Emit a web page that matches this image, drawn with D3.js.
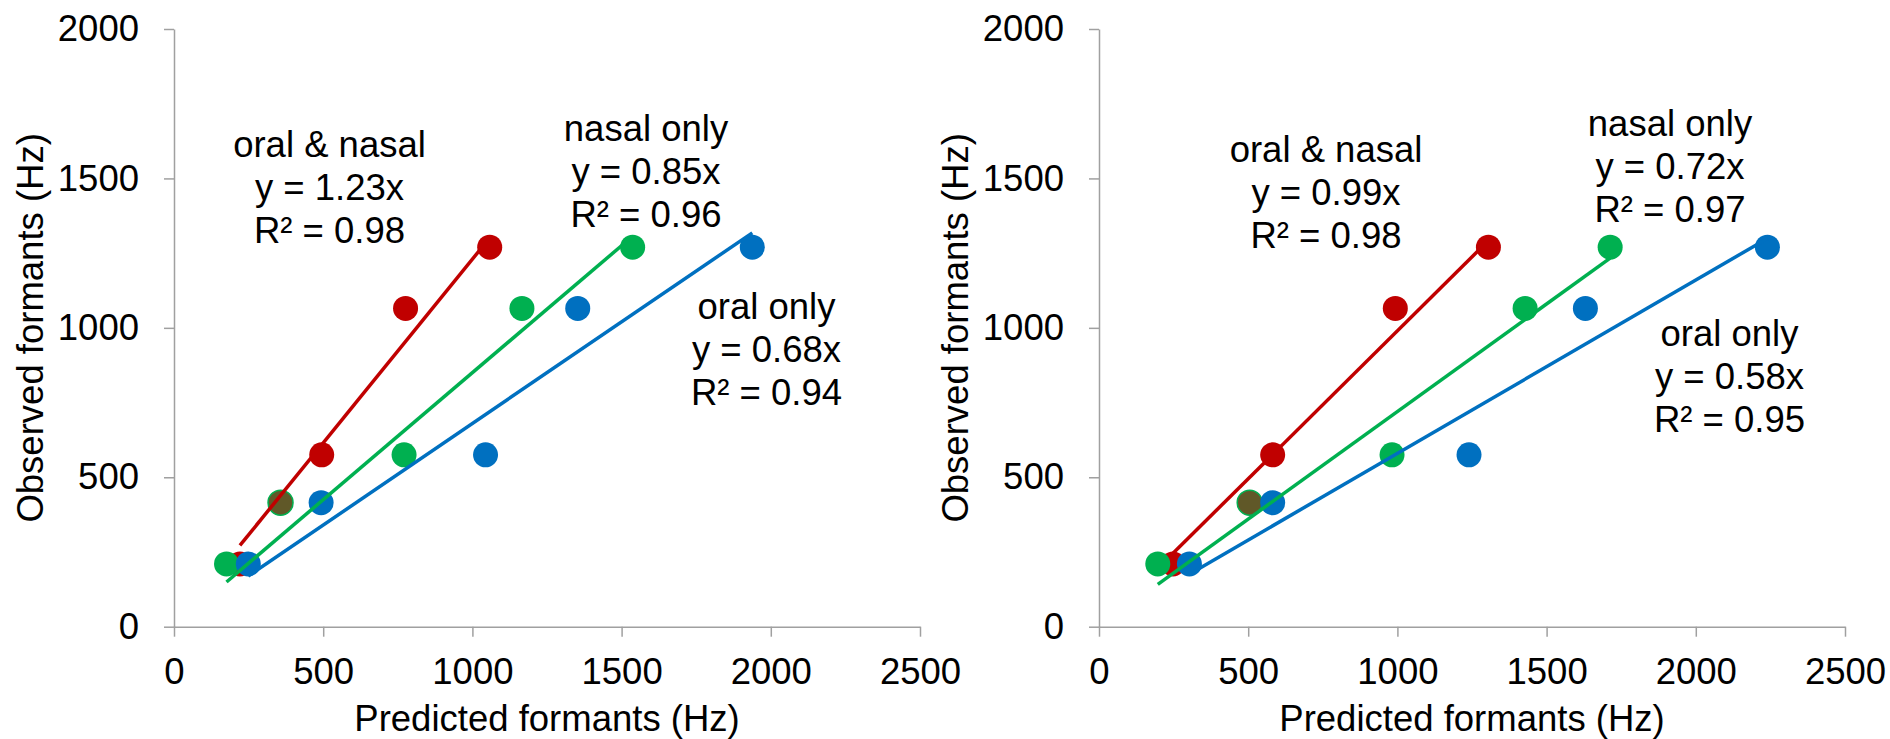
<!DOCTYPE html>
<html>
<head>
<meta charset="utf-8">
<script src="https://cdn.jsdelivr.net/npm/d3@7"></script>
<style>
  body { margin: 0; background: #fff; }
  svg text { font-family: "Liberation Sans", Arial, sans-serif; fill: #000; }
</style>
</head>
<body>
<svg id="chart" width="1890" height="739"></svg>
<script>
// observed formants (Hz), shared by every series
const observed = [210, 415, 575, 1065, 1270];

// predicted formants (Hz), left panel
const leftOralNasal = [221, 357, 495, 776, 1058];
const leftNasalOnly = [176, 357, 771, 1166, 1537];
const leftOralOnly  = [249, 493, 1044, 1353, 1938];

// predicted formants (Hz), right panel
const rightOralNasal = [248, 505, 582, 993, 1305];
const rightNasalOnly = [197, 505, 982, 1428, 1713];
const rightOralOnly  = [303, 582, 1240, 1630, 2240];

const seriesNames = ["oral & nasal", "nasal only", "oral only"];
const leftSlopes  = [1.23, 0.85, 0.68];
const leftR2      = [0.98, 0.96, 0.94];
const rightSlopes = [0.99, 0.72, 0.58];
const rightR2     = [0.98, 0.97, 0.95];

const xTicks = [0, 500, 1000, 1500, 2000, 2500];
const yTicks = [0, 500, 1000, 1500, 2000];

const colors = ["#C00000", "#00B050", "#0070C0"];
const fontSize = 36.5;
const svg = d3.select("#chart");

// label spots (center x, first baseline) for each series, per panel
const panels = [
  { x0: 174, preds: [leftOralNasal, leftNasalOnly, leftOralOnly], slopes: leftSlopes, r2: leftR2,
    labels: [[329.5, 157], [646, 141], [766.5, 318.5]] },
  { x0: 1099, preds: [rightOralNasal, rightNasalOnly, rightOralOnly], slopes: rightSlopes, r2: rightR2,
    labels: [[1326, 161.5], [1670, 136], [1729.5, 346]] }
];

panels.forEach(p => {
  const x = d3.scaleLinear().domain([0, 2500]).range([p.x0, p.x0 + 746]);
  const y = d3.scaleLinear().domain([0, 2000]).range([626.7, 29]);
  const g = svg.append("g");

  // axes
  const xa = g.append("g")
    .attr("transform", `translate(0,${y(0)})`)
    .call(d3.axisBottom(x).tickValues(xTicks).tickFormat(d3.format("d"))
      .tickSize(10).tickSizeOuter(0).tickPadding(21));
  const ya = g.append("g")
    .attr("transform", `translate(${x(0)},0)`)
    .call(d3.axisLeft(y).tickValues(yTicks).tickFormat(d3.format("d"))
      .tickSize(10).tickSizeOuter(0).tickPadding(25));
  [xa, ya].forEach(a => {
    a.selectAll("path, line").attr("stroke", "#a0a0a0").attr("stroke-width", 1.5);
    a.selectAll("text").style("font-size", fontSize + "px").attr("fill", "#000");
  });

  g.append("text")
    .attr("x", (x(0) + x(2500)) / 2).attr("y", 731)
    .attr("text-anchor", "middle").style("font-size", fontSize + "px")
    .text("Predicted formants (Hz)");
  g.append("text")
    .attr("transform", `translate(${x(0) - 131},${(y(0) + y(2000)) / 2}) rotate(-90)`)
    .attr("text-anchor", "middle").style("font-size", fontSize + "px")
    .text("Observed formants (Hz)");

  // markers
  p.preds.forEach((pred, s) => {
    g.append("g").selectAll("circle")
      .data(pred.map((v, i) => ({ px: v, ob: observed[i], i })))
      .join("circle")
      .attr("cx", d => x(d.px)).attr("cy", d => y(d.ob)).attr("r", 12.5)
      .attr("fill", colors[s])
      // nasal point sitting on an oral & nasal point: blended look
      .attr("fill-opacity", d => (s === 1 && p.preds[0][d.i] === d.px) ? 0.5 : 1)
      .attr("stroke", d => (s === 1 && p.preds[0][d.i] === d.px) ? colors[s] : "none")
      .attr("stroke-width", 1.5);
  });

  // trendlines through origin, over each series' range
  p.preds.forEach((pred, s) => {
    const lo = d3.min(pred), hi = d3.max(pred);
    g.append("line")
      .attr("x1", x(lo)).attr("y1", y(lo * p.slopes[s]))
      .attr("x2", x(hi)).attr("y2", y(hi * p.slopes[s]))
      .attr("stroke", colors[s]).attr("stroke-width", 3.5);
  });

  // equation labels
  p.labels.forEach((pos, s) => {
    const lines = [seriesNames[s], `y = ${p.slopes[s].toFixed(2)}x`, `R² = ${p.r2[s].toFixed(2)}`];
    g.append("text")
      .attr("text-anchor", "middle").style("font-size", fontSize + "px")
      .selectAll("tspan").data(lines).join("tspan")
      .attr("x", pos[0]).attr("y", (d, i) => pos[1] + i * 43)
      .text(d => d);
  });
});
</script>
</body>
</html>
